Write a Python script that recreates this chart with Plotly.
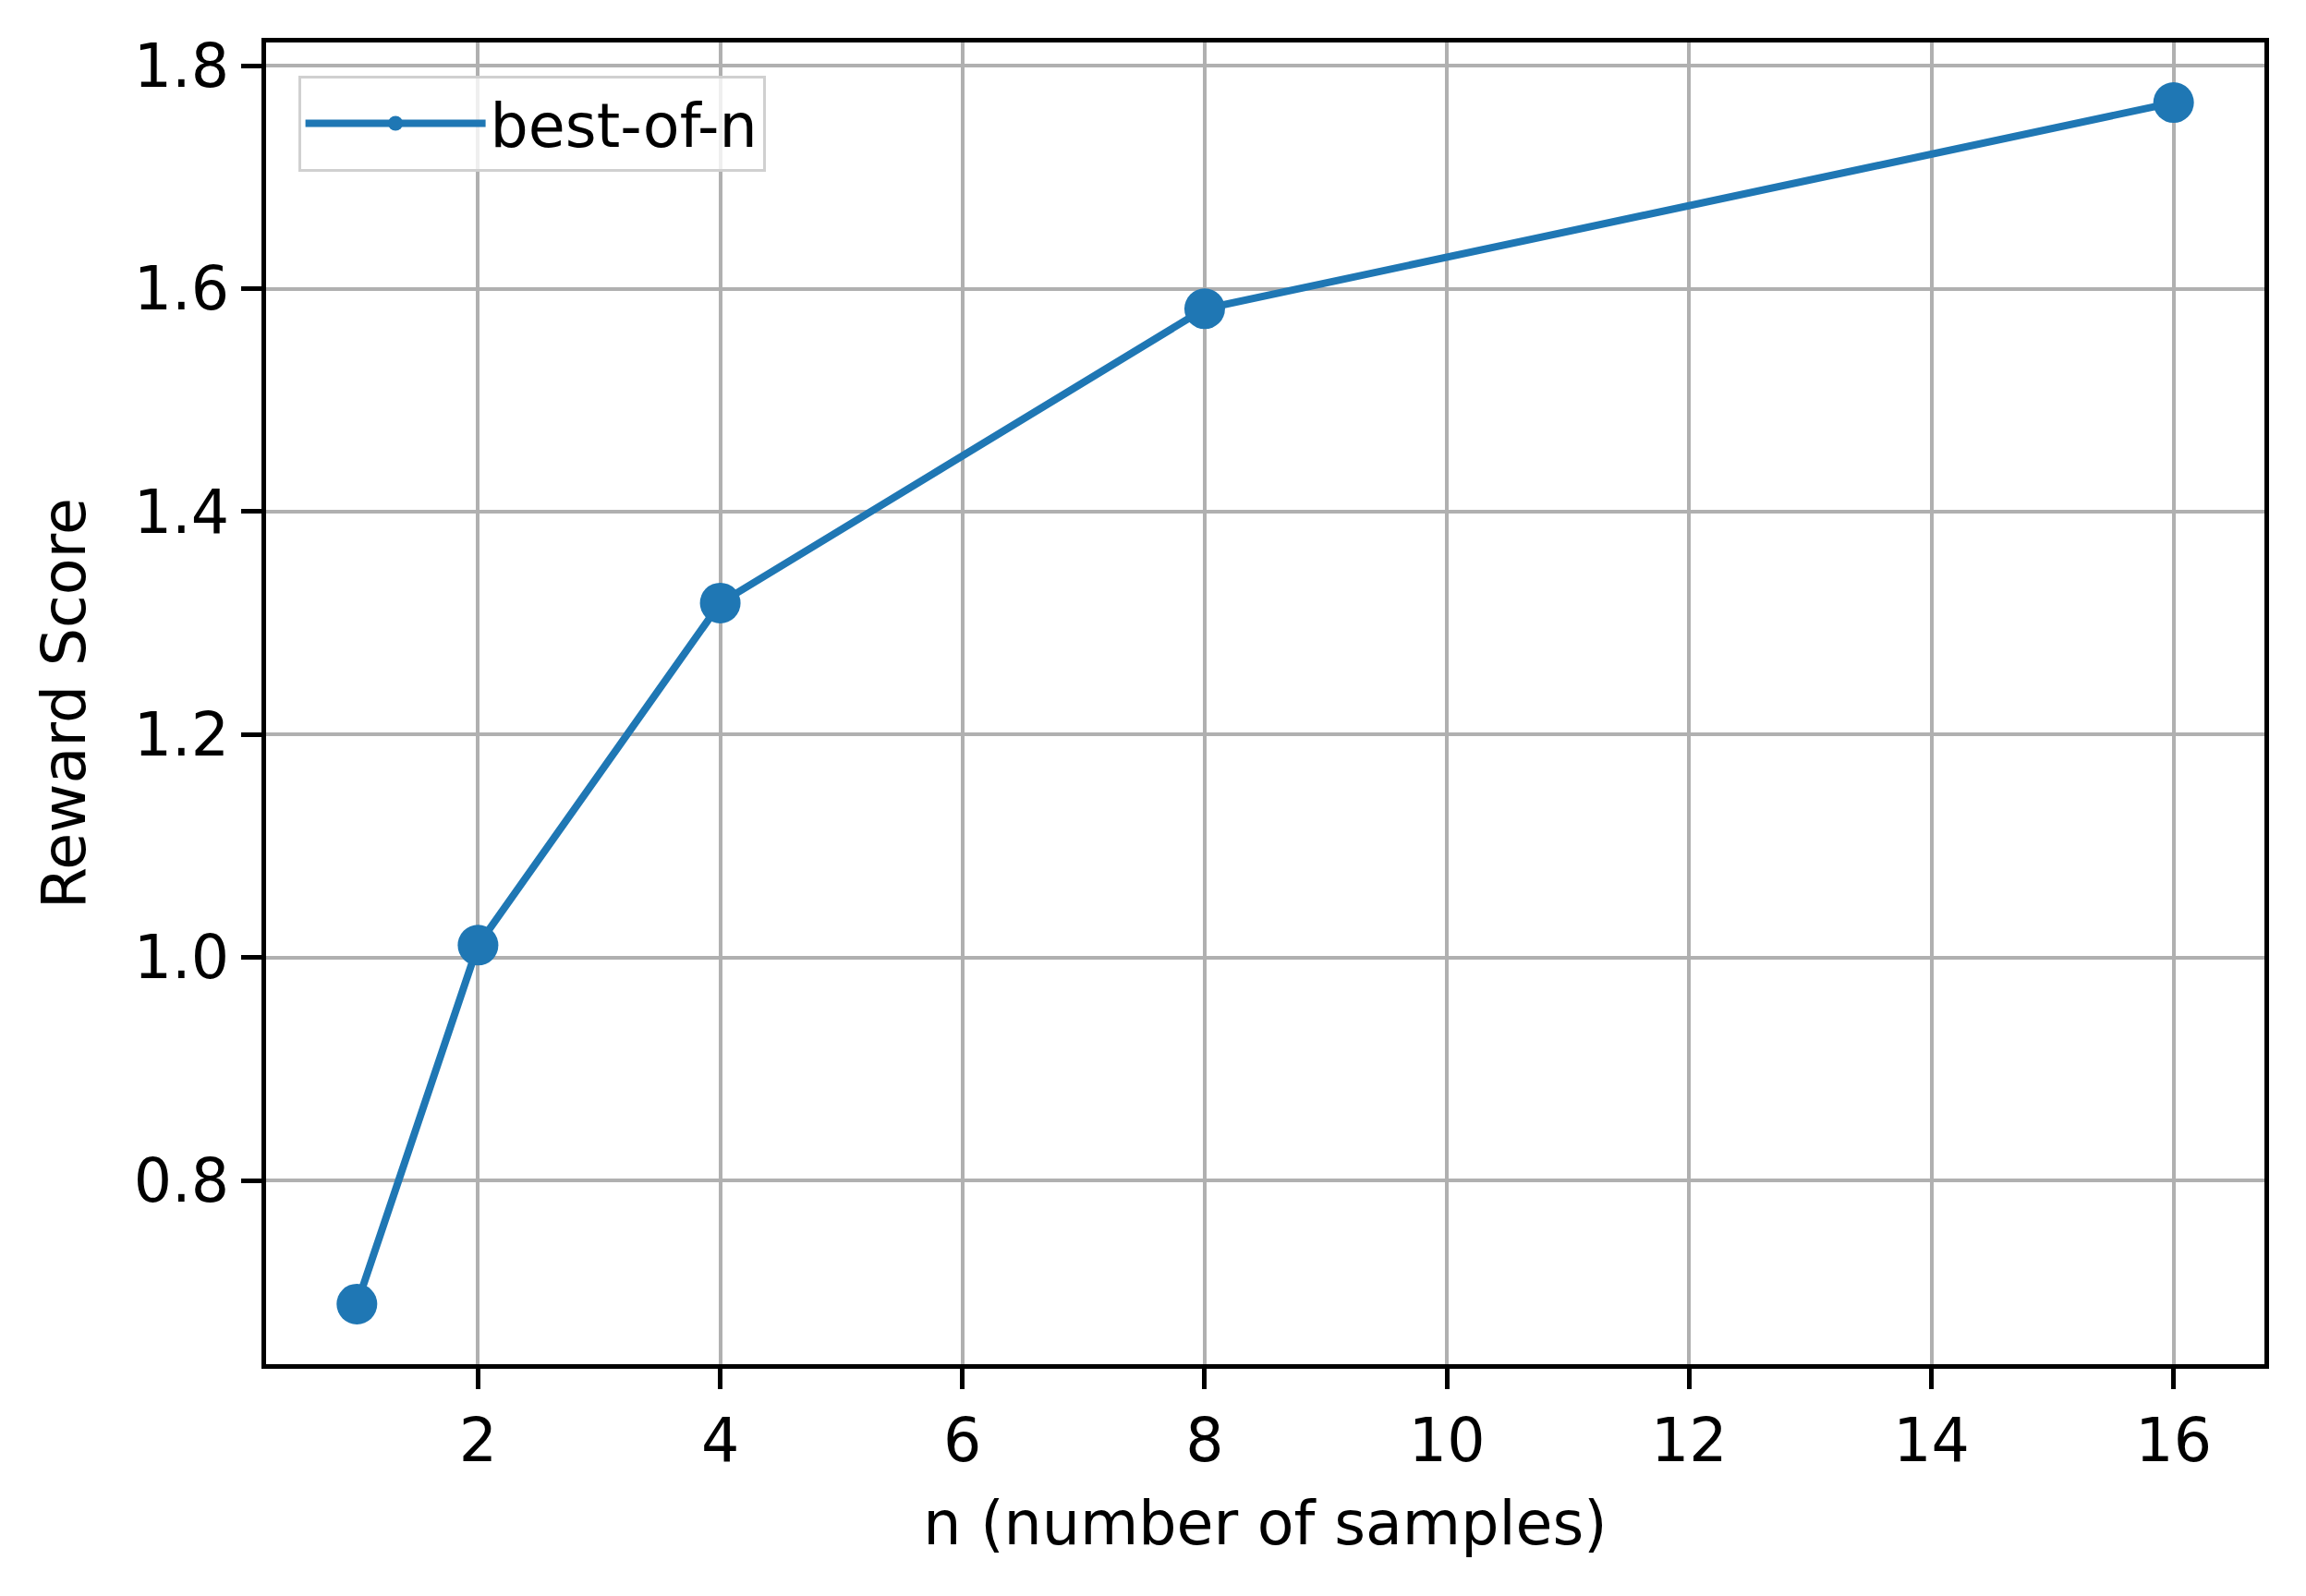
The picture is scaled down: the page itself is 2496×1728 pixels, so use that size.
import plotly.graph_objects as go

# best-of-n sampling: reward score vs number of samples
n_samples = [1, 2, 4, 8, 16]
reward_score = [0.689, 1.011, 1.318, 1.582, 1.767]

x_ticks = [2, 4, 6, 8, 10, 12, 14, 16]
y_ticks = [0.8, 1.0, 1.2, 1.4, 1.6, 1.8]

BLUE = "#1f77b4"
FONT = "DejaVu Sans"
FS = 65

fig = go.Figure()

fig.add_trace(
    go.Scatter(
        x=n_samples,
        y=reward_score,
        mode="lines+markers",
        name="best-of-n",
        line=dict(color=BLUE, width=8),
        marker=dict(color=BLUE, size=44),
    )
)

axis_common = dict(
    showline=True,
    linecolor="black",
    linewidth=5,
    mirror=True,
    showgrid=True,
    gridcolor="#b0b0b0",
    gridwidth=4,
    ticks="outside",
    ticklen=22,
    tickwidth=5,
    tickcolor="black",
    tickfont=dict(family=FONT, size=FS, color="black"),
    zeroline=False,
)

fig.update_xaxes(
    range=[0.25, 16.75],
    tickvals=x_ticks,
    title=dict(text="n (number of samples)", font=dict(family=FONT, size=FS, color="black"), standoff=32),
    **axis_common,
)
fig.update_yaxes(
    range=[0.6351, 1.8209],
    tickvals=y_ticks,
    tickformat=".1f",
    title=dict(text="Reward Score", font=dict(family=FONT, size=FS, color="black"), standoff=32),
    **axis_common,
)

fig.update_layout(
    width=2480,
    height=1712,
    margin=dict(l=280, r=37, t=38, b=243),
    plot_bgcolor="white",
    paper_bgcolor="white",
    font=dict(family=FONT, size=FS, color="black"),
    legend=dict(
        x=0.016,
        y=0.975,
        xanchor="left",
        yanchor="top",
        bgcolor="rgba(255,255,255,0.8)",
        bordercolor="#d0d0d0",
        borderwidth=3,
        font=dict(family=FONT, size=FS, color="black"),
        itemwidth=195,
        itemsizing="trace",
    ),
    showlegend=True,
)

fig.write_html("out.html")
